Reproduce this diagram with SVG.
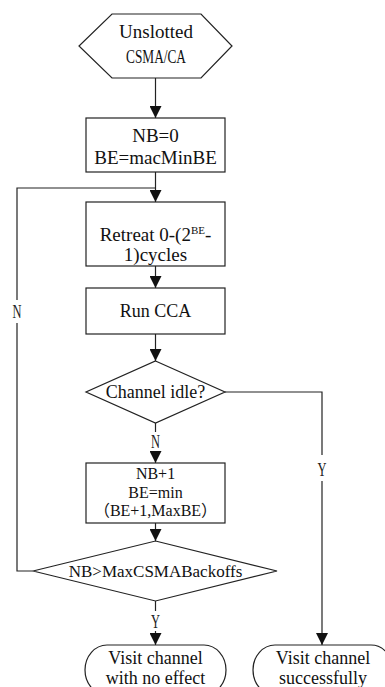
<svg xmlns="http://www.w3.org/2000/svg" width="385" height="687" viewBox="0 0 385 687">
<style>
.s{fill:#fff;stroke:#222;stroke-width:1.2}
.t{font-family:"Liberation Serif","Noto Sans CJK SC",serif;font-size:18px;fill:#111;text-anchor:middle}
.m{font-family:"Liberation Serif",serif;font-size:18px;fill:#222;text-anchor:middle}
.c{fill:none;stroke:#222;stroke-width:1.2}
</style>
<defs>
<marker id="a" markerUnits="userSpaceOnUse" markerWidth="12" markerHeight="12" refX="12" refY="6" orient="auto">
<path d="M0,0 L12,6 L0,12 Z" fill="#111"/>
</marker>
</defs>
<g id="connectors">
<line class="c" x1="155.5" y1="78" x2="155.5" y2="118" marker-end="url(#a)"/>
<polyline class="c" points="155.5,172 155.5,188"/>
<line class="c" x1="155.5" y1="188" x2="155.5" y2="202" marker-end="url(#a)"/>
<line class="c" x1="155.5" y1="266" x2="155.5" y2="288" marker-end="url(#a)"/>
<line class="c" x1="155.5" y1="334" x2="155.5" y2="361" marker-end="url(#a)"/>
<line class="c" x1="155.5" y1="423" x2="155.5" y2="432"/>
<line class="c" x1="155.5" y1="451" x2="155.5" y2="463" marker-end="url(#a)"/>
<line class="c" x1="155.5" y1="523" x2="155.5" y2="541" marker-end="url(#a)"/>
<line class="c" x1="155.5" y1="601" x2="155.5" y2="611"/>
<line class="c" x1="155.5" y1="631" x2="155.5" y2="645" marker-end="url(#a)"/>
<polyline class="c" points="33,571 17,571 17,323"/>
<polyline class="c" points="17,300 17,188 155.5,188"/>
<polyline class="c" points="225,392 322,392 322,455"/>
<line class="c" x1="322" y1="481" x2="322" y2="645" marker-end="url(#a)"/>
<text class="m" x="17" y="318" textLength="9" lengthAdjust="spacingAndGlyphs">N</text>
<text class="m" x="155.5" y="448" textLength="9" lengthAdjust="spacingAndGlyphs">N</text>
<text class="m" x="322" y="476" textLength="9" lengthAdjust="spacingAndGlyphs">Y</text>
<text class="m" x="155.5" y="628" textLength="9" lengthAdjust="spacingAndGlyphs">Y</text>
</g>
<g id="start">
<polygon class="s" points="112,14 201,14 232,46 201,78 112,78 79,46"/>
<text class="t" x="156" y="38" style="font-size:19px">Unslotted</text>
<text class="t" x="156" y="63" style="font-size:18px" textLength="60" lengthAdjust="spacingAndGlyphs">CSMA/CA</text>
</g>
<g id="init">
<rect class="s" x="86" y="118" width="139" height="54"/>
<text class="t" x="155.5" y="142" style="font-size:19px">NB=0</text>
<text class="t" x="155.5" y="164" style="font-size:19px">BE=macMinBE</text>
</g>
<g id="retreat">
<rect class="s" x="86" y="202" width="139" height="64"/>
<text class="t" x="155.5" y="241" style="font-size:19px">Retreat 0-(2<tspan dy="-7" style="font-size:11px">BE</tspan><tspan dy="7">-</tspan></text>
<text class="t" x="155.5" y="261" style="font-size:19px">1)cycles</text>
</g>
<g id="cca">
<rect class="s" x="86" y="288" width="139" height="46"/>
<text class="t" x="155.5" y="317">Run CCA</text>
</g>
<g id="idle">
<polygon class="s" points="155.5,361 225,392 155.5,423 86,392"/>
<text class="t" x="155.5" y="398">Channel idle?</text>
</g>
<g id="update">
<rect class="s" x="86" y="463" width="139" height="60"/>
<text class="t" x="155.5" y="479" style="font-size:16px">NB+1</text>
<text class="t" x="155.5" y="498" style="font-size:16px">BE=min</text>
<text class="t" x="155.5" y="516" style="font-size:16px">（BE+1,MaxBE）</text>
</g>
<g id="maxcheck">
<polygon class="s" points="155.5,541 277,571 155.5,601 33,571"/>
<text class="t" x="155.5" y="577" style="font-size:17px">NB&gt;MaxCSMABackoffs</text>
</g>
<g id="fail">
<rect class="s" x="85" y="645" width="141" height="50" rx="22" ry="25"/>
<text class="t" x="155.5" y="664">Visit channel</text>
<text class="t" x="155.5" y="684">with no effect</text>
</g>
<g id="success">
<rect class="s" x="253" y="645" width="140" height="50" rx="22" ry="25"/>
<text class="t" x="323" y="664">Visit channel</text>
<text class="t" x="323" y="684">successfully</text>
</g>
</svg>
